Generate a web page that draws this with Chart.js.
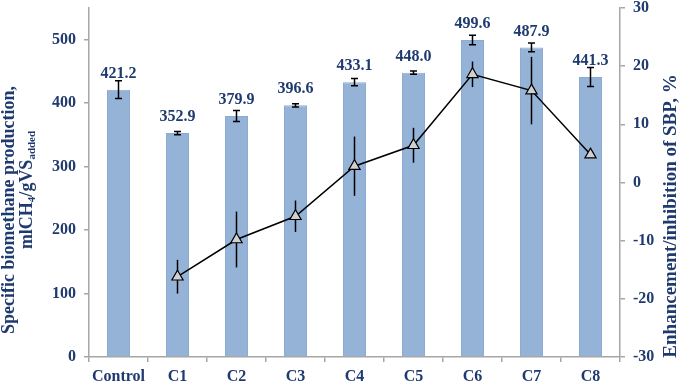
<!DOCTYPE html>
<html>
<head>
<meta charset="utf-8">
<script src="https://cdn.jsdelivr.net/npm/chart.js@4.4.1/dist/chart.umd.min.js"></script>
<style>
  html, body { margin: 0; padding: 0; background: #fff; }
  #wrap { width: 680px; height: 385px; }
</style>
</head>
<body>
<div id="wrap"><canvas id="myChart"></canvas></div>
<script>
const categories = ["Control", "C1", "C2", "C3", "C4", "C5", "C6", "C7", "C8"];
const sbpValues = [421.2, 352.9, 379.9, 396.6, 433.1, 448.0, 499.6, 487.9, 441.3];
const sbpErrors = [14, 2.5, 8.7, 2.6, 5.8, 2.6, 7.6, 6.8, 15];
const changeValues = [null, -16.2, -9.8, -5.8, 2.8, 6.4, 18.6, 15.8, 4.8];
const changeErrors = [null, 2.9, 4.8, 2.7, 5.1, 3.0, 2.2, 5.8, 0];
const leftTicks = [0, 100, 200, 300, 400, 500];
const rightTicks = [-30, -20, -10, 0, 10, 20, 30];

const navy = "#1F3A6E";
const axisGrey = "#A6A6A6";
const serif = "'Liberation Serif', 'Times New Roman', serif";

const ctx = document.getElementById('myChart');

// error bars, value labels and the two axis titles
const extras = {
  id: 'extras',
  beforeDatasetDraw(chart, args) {
    if (args.index !== 1) return;
    const c = chart.ctx, x = chart.scales.x, y1 = chart.scales.y1;
    c.save();
    c.strokeStyle = "#000";
    c.lineWidth = 1.5;
    changeValues.forEach((v, i) => {
      if (v === null || !changeErrors[i]) return;
      const px = x.getPixelForValue(i);
      c.beginPath();
      c.moveTo(px, y1.getPixelForValue(v - changeErrors[i]));
      c.lineTo(px, y1.getPixelForValue(v + changeErrors[i]));
      c.stroke();
    });
    c.restore();
  },
  afterDatasetDraw(chart, args) {
    if (args.index !== 0) return;
    const c = chart.ctx, x = chart.scales.x, y = chart.scales.y;
    c.save();
    c.strokeStyle = "#000";
    c.lineWidth = 1.5;
    sbpValues.forEach((v, i) => {
      const px = x.getPixelForValue(i);
      const top = y.getPixelForValue(v + sbpErrors[i]);
      const bot = y.getPixelForValue(v - sbpErrors[i]);
      c.beginPath();
      c.moveTo(px, top); c.lineTo(px, bot);
      c.moveTo(px - 3.5, top); c.lineTo(px + 3.5, top);
      c.moveTo(px - 3.5, bot); c.lineTo(px + 3.5, bot);
      c.stroke();
    });
    c.fillStyle = navy;
    c.font = "bold 16px " + serif;
    c.textAlign = "center";
    c.textBaseline = "middle";
    sbpValues.forEach((v, i) => {
      c.fillText(v.toFixed(1), x.getPixelForValue(i), y.getPixelForValue(v) - 16);
    });
    c.restore();
  },
  afterDraw(chart) {
    const c = chart.ctx;
    const main = "bold 18px " + serif, sub = "bold 11px " + serif;
    c.save();
    c.fillStyle = navy;
    c.textBaseline = "middle";
    // left title, line 1
    c.save();
    c.translate(9, 210);
    c.rotate(-Math.PI / 2);
    c.font = main;
    c.textAlign = "center";
    c.fillText("Specific biomethane production,", 0, 0);
    c.restore();
    // left title, line 2 with subscripts
    const parts = [["mlCH", main, 0], ["4", sub, 5], ["/gVS", main, 0], ["added", sub, 5]];
    let w = 0;
    parts.forEach(p => { c.font = p[1]; w += c.measureText(p[0]).width; });
    c.save();
    c.translate(27, 190);
    c.rotate(-Math.PI / 2);
    c.textAlign = "left";
    let cx = -w / 2;
    parts.forEach(p => {
      c.font = p[1];
      c.fillText(p[0], cx, p[2]);
      cx += c.measureText(p[0]).width;
    });
    c.restore();
    // right title, reading upwards
    c.save();
    c.translate(671, 216);
    c.rotate(-Math.PI / 2);
    c.font = "bold 19px " + serif;
    c.textAlign = "center";
    c.fillText("Enhancement/inhibition of SBP, %", 0, 0);
    c.restore();
    c.restore();
  }
};

new Chart(ctx, {
  type: 'bar',
  data: {
    labels: categories,
    datasets: [{
      type: 'bar',
      label: 'SBP',
      data: sbpValues,
      yAxisID: 'y',
      backgroundColor: '#95B3D7',
      borderColor: '#8CABD3',
      borderWidth: 1,
      barPercentage: 1,
      categoryPercentage: 0.39,
      order: 1
    }, {
      type: 'line',
      label: 'Enhancement',
      data: changeValues,
      yAxisID: 'y1',
      borderColor: '#000',
      borderWidth: 1.5,
      pointStyle: 'triangle',
      pointRadius: 6.5,
      pointBackgroundColor: '#D0D0D0',
      pointBorderColor: '#000',
      pointBorderWidth: 1.2,
      tension: 0,
      order: 0
    }]
  },
  options: {
    responsive: true,
    maintainAspectRatio: false,
    animation: false,
    layout: { padding: { top: 8, left: 0, right: 0, bottom: 0 } },
    plugins: { legend: { display: false }, tooltip: { enabled: false } },
    scales: {
      x: {
        offset: true,
        grid: { display: true, drawOnChartArea: false, offset: true, tickLength: 5, color: axisGrey, lineWidth: 1.5 },
        border: { color: axisGrey, width: 1.5 },
        ticks: { color: navy, font: { family: serif, size: 16, weight: 'bold' }, padding: 5, maxRotation: 0 },
        afterFit(s) { s.height = 28; s.paddingLeft = 0; s.paddingRight = 0; }
      },
      y: {
        position: 'left',
        min: 0,
        max: 550,
        afterBuildTicks(s) { s.ticks = leftTicks.map(v => ({ value: v })); },
        grid: { display: true, drawOnChartArea: false, tickLength: 5, color: axisGrey, lineWidth: 1.5 },
        border: { color: axisGrey, width: 1.5 },
        ticks: { color: navy, font: { family: serif, size: 16, weight: 'bold' }, padding: 8 },
        afterFit(s) { s.width = 89; s.paddingTop = 0; s.paddingBottom = 0; }
      },
      y1: {
        position: 'right',
        min: -30,
        max: 30,
        afterBuildTicks(s) { s.ticks = rightTicks.map(v => ({ value: v })); },
        grid: { display: true, drawOnChartArea: false, tickLength: 5, color: axisGrey, lineWidth: 1.5 },
        border: { color: axisGrey, width: 1.5 },
        ticks: { color: navy, font: { family: serif, size: 16, weight: 'bold' }, padding: 8 },
        afterFit(s) { s.width = 60; s.paddingTop = 0; s.paddingBottom = 0; }
      }
    }
  },
  plugins: [extras]
});
</script>
</body>
</html>
